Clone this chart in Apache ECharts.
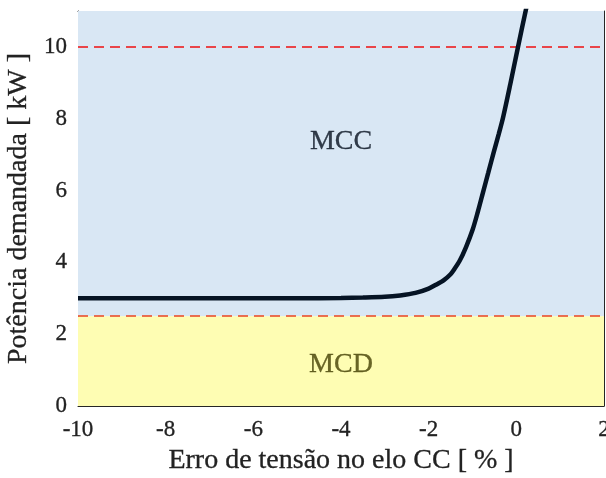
<!DOCTYPE html>
<html>
<head>
<meta charset="utf-8">
<script src="https://cdn.jsdelivr.net/npm/echarts@6/dist/echarts.min.js"></script>
<style>html,body{margin:0;padding:0;background:#fff}#c{width:606px;height:478px}</style>
</head>
<body>
<div id="c"></div>
<script>
// Data
const errX = [-10, -8, -6, -5, -4, -3.5, -3, -2.65, -2.3, -2, -1.8, -1.66, -1.5, -1.42, -1.29, -1.15, -1.0, -0.88, -0.76, -0.64, -0.52, -0.4, -0.3, -0.14, 0.03, 0.23, 0.4];
const power = [3, 3, 3, 3, 3.01, 3.02, 3.04, 3.08, 3.15, 3.27, 3.4, 3.5, 3.67, 3.8, 4.05, 4.42, 4.9, 5.4, 5.95, 6.5, 7.05, 7.58, 8.05, 8.95, 9.95, 11.1, 12.0];
const xTicks = [-10, -8, -6, -4, -2, 0, 2];
const yTicks = [0, 2, 4, 6, 8, 10];
const limitHigh = 10;
const limitLow = 2.5;
const regionMCD = [0, 2.5];
const regionMCC = [2.5, 11];
const regionLabels = [[-4, 7.35, 'MCC'], [-4, 1.15, 'MCD']];

const FONT = '"Liberation Serif", "Times New Roman", serif';
const chart = echarts.init(document.getElementById('c'), null, {renderer: 'canvas'});
const axisCol = '#262626';
const txtCol = '#222222';
const lineData = errX.map((x, i) => [x, power[i]]);
const labelColors = {MCC: '#06101e', MCD: '#423f02'};

const option = {
  animation: false,
  grid: {left: 78, right: 2, top: 11, bottom: 72, containLabel: false, outerBoundsMode: 'none'},
  xAxis: [{
    type: 'value', min: -10, max: 2, interval: 2,
    name: 'Erro de tensão no elo CC [ % ]', nameLocation: 'middle', nameGap: 41,
    nameTextStyle: {fontFamily: FONT, fontSize: 28, color: txtCol, textBorderColor: txtCol, textBorderWidth: 0.3},
    axisLine: {show: true, onZero: false, lineStyle: {color: axisCol, width: 1}},
    axisTick: {show: true, inside: true, length: 5, lineStyle: {color: axisCol}},
    axisLabel: {fontFamily: FONT, fontSize: 23, color: txtCol, margin: 12, hideOverlap: false,
      textBorderColor: txtCol, textBorderWidth: 0.3,
      formatter: v => xTicks.includes(v) ? String(v) : ''},
    splitLine: {show: true, lineStyle: {color: 'rgba(40,40,40,0.13)', width: 1}}
  }, {
    type: 'value', min: -10, max: 2, interval: 2, position: 'top',
    axisLine: {show: true, onZero: false, lineStyle: {color: axisCol, width: 1}},
    axisTick: {show: true, inside: true, length: 5, lineStyle: {color: axisCol}},
    axisLabel: {show: false}, splitLine: {show: false}
  }],
  yAxis: [{
    type: 'value', min: 0, max: 11, interval: 2,
    name: 'Potência demandada [ kW ]', nameLocation: 'middle', nameGap: 34,
    nameTextStyle: {fontFamily: FONT, fontSize: 28, color: txtCol, textBorderColor: txtCol, textBorderWidth: 0.3},
    axisLine: {show: true, onZero: false, lineStyle: {color: axisCol, width: 1}},
    axisTick: {show: true, inside: true, length: 5, lineStyle: {color: axisCol}},
    axisLabel: {fontFamily: FONT, fontSize: 23, color: txtCol, margin: 11,
      textBorderColor: txtCol, textBorderWidth: 0.3,
      formatter: v => yTicks.includes(v) ? String(v) : ''},
    splitLine: {show: true, lineStyle: {color: 'rgba(40,40,40,0.13)', width: 1}}
  }, {
    type: 'value', min: 0, max: 11, interval: 2, position: 'right',
    axisLine: {show: true, onZero: false, lineStyle: {color: axisCol, width: 1}},
    axisTick: {show: true, inside: true, length: 5, lineStyle: {color: axisCol}},
    axisLabel: {show: false}, splitLine: {show: false}
  }],
  series: [
    {
      type: 'line', data: [], z: -1, silent: true,
      markArea: {
        silent: true,
        data: [
          [{yAxis: regionMCC[0], xAxis: -10, itemStyle: {color: '#d9e7f4', opacity: 1}}, {yAxis: regionMCC[1], xAxis: 2}],
          [{yAxis: regionMCD[0], xAxis: -10, itemStyle: {color: '#fefdb3', opacity: 1}}, {yAxis: regionMCD[1], xAxis: 2}]
        ]
      }
    },
    {
      type: 'line', data: [], z: 3, silent: true,
      markLine: {
        silent: true, symbol: 'none', label: {show: false},
        data: [
          {yAxis: limitHigh, lineStyle: {color: '#ee1111', type: [10, 6], width: 1.5}},
          {yAxis: limitLow, lineStyle: {color: '#ea4520', type: [10, 6], width: 1.5}}
        ]
      }
    },
    {
      type: 'line', data: lineData, showSymbol: false, smooth: 0.3,
      clip: true, z: 5,
      lineStyle: {color: '#061424', width: 4.5}
    },
    {
      type: 'scatter', symbolSize: 0, z: 6,
      data: regionLabels.map(d => ({value: [d[0], d[1]], name: d[2],
        label: {color: labelColors[d[2]], textBorderColor: labelColors[d[2]], textBorderWidth: 0.3}})),
      label: {
        show: true, position: 'inside', fontFamily: FONT, fontSize: 28,
        formatter: p => p.name
      }
    }
  ]
};
chart.setOption(option);
</script>
</body>
</html>
